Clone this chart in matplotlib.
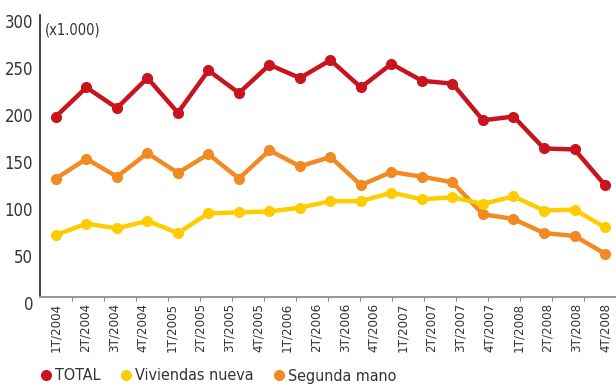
import matplotlib.pyplot as plt
import matplotlib.transforms as mtransforms
from matplotlib.lines import Line2D
import numpy as np

plt.rcParams['font.family'] = ['DejaVu Sans']
plt.rcParams['font.stretch'] = 'condensed'

# Trimestres del eje X
trimestres = ['1T/2004', '2T/2004', '3T/2004', '4T/2004',
              '1T/2005', '2T/2005', '3T/2005', '4T/2005',
              '1T/2006', '2T/2006', '3T/2006', '4T/2006',
              '1T/2007', '2T/2007', '3T/2007', '4T/2007',
              '1T/2008', '2T/2008', '3T/2008', '4T/2008']

# Compraventa de viviendas (miles)
total = [192, 223, 201, 233, 196, 241, 217, 247, 233, 252,
         223, 248, 230, 227, 188, 192, 158, 157, 119]
viviendas_nueva = [66, 78, 73, 81, 68, 89, 90, 91, 95, 102,
                   102, 111, 104, 106, 99, 107, 92, 93, 74]
segunda_mano = [126, 147, 128, 153, 132, 152, 126, 156, 139, 149,
                119, 133, 128, 122, 88, 83, 68, 65, 46]

ROJO = '#C8141E'
AMARILLO = '#FFCC00'
NARANJA = '#F28A24'
TEXTO = '#333333'

W, H, DPI = 6.16, 3.85, 100
fig = plt.figure(figsize=(W, H), dpi=DPI)
ax = fig.add_axes([40 / 616, 1 - 297 / 385, 576 / 616, 282 / 385])

# las series se reparten a lo largo de todo el eje de trimestres
x = np.linspace(0, len(trimestres) - 1, len(total))

for serie, color in [(total, ROJO), (segunda_mano, NARANJA), (viviendas_nueva, AMARILLO)]:
    ax.plot(x, serie, color=color, lw=3.2, marker='o', ms=7,
            solid_capstyle='round', zorder=3)

xmin, xmax = -0.55, 19.38
ax.set_xlim(xmin, xmax)
ax.set_ylim(0, 300)
ax.set_yticks(range(0, 301, 50))
ax.set_xticks(range(len(trimestres)))
ax.set_xticklabels(trimestres, rotation=90, fontsize=9.5, color=TEXTO)
ax.tick_params(axis='x', length=0, pad=4)
ax.tick_params(axis='y', length=0, pad=5, labelsize=12, labelcolor=TEXTO)

# pequenas marcas bajo el eje
menores = [xmin + (xmax - xmin) * k / 18 for k in range(1, 18)]
ax.set_xticks(menores, minor=True)
ax.tick_params(axis='x', which='minor', length=3, width=0.8, color='#888888')

# desplazar etiquetas del eje Y ligeramente hacia abajo
offset = mtransforms.ScaledTranslation(0, -4 / 72, fig.dpi_scale_trans)
for lbl in ax.get_yticklabels():
    lbl.set_transform(lbl.get_transform() + offset)

for s in ['top', 'right']:
    ax.spines[s].set_visible(False)
ax.spines['left'].set_color('#222222')
ax.spines['left'].set_linewidth(1.2)
ax.spines['bottom'].set_color('#999999')
ax.spines['bottom'].set_linewidth(1.5)

ax.text(5 / 576, 0.975, '(x1.000)', transform=ax.transAxes, fontsize=10.5,
        color=TEXTO, ha='left', va='top')

handles = [Line2D([], [], ls='none', marker='o', ms=7, color=c)
           for c in (ROJO, AMARILLO, NARANJA)]
fig.legend(handles, ['TOTAL', 'Viviendas nueva', 'Segunda mano'],
           loc='center left', bbox_to_anchor=(32 / 616, 1 - 376 / 385),
           ncol=3, frameon=False, fontsize=11.5, labelcolor=TEXTO,
           handletextpad=0.05, columnspacing=1.1, handlelength=1.0,
           borderaxespad=0)

fig.savefig('out.png', dpi=DPI)
